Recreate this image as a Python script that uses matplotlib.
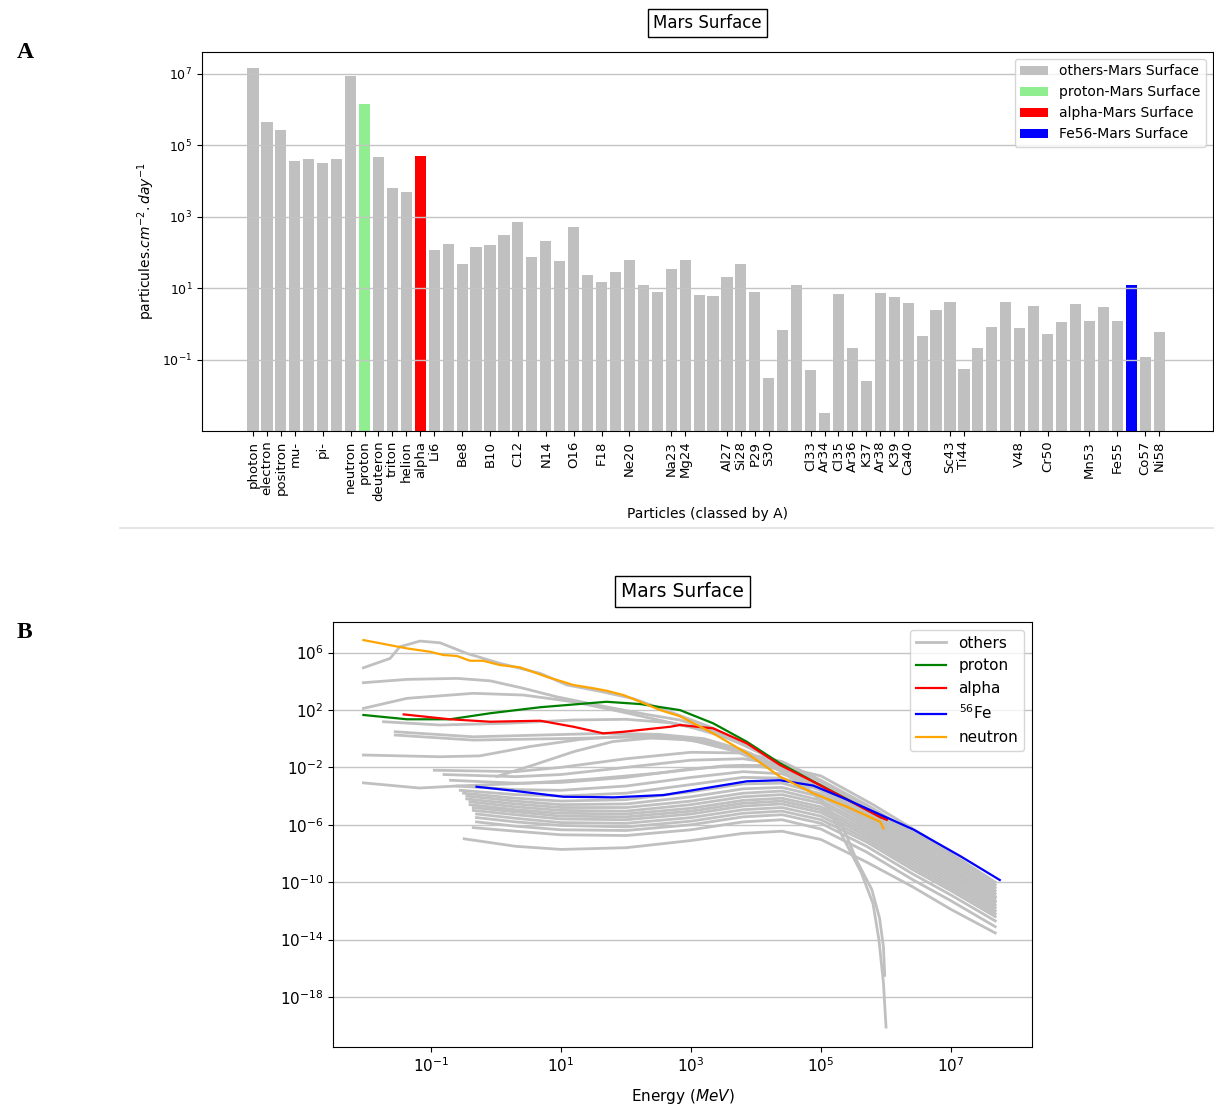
import numpy as np
import matplotlib
matplotlib.use('Agg')
import matplotlib.pyplot as plt
from matplotlib.lines import Line2D

# ---- top panel: integrated flux per particle, ordered by mass number
bar_names = ['photon', 'electron', 'positron', 'mu-', '', 'pi-', '', 'neutron', 'proton',
             'deuteron', 'triton', 'helion', 'alpha', 'Li6', '', 'Be8', '', 'B10', '', 'C12',
             '', 'N14', '', 'O16', '', 'F18', '', 'Ne20', '', '', 'Na23', 'Mg24', '', '',
             'Al27', 'Si28', 'P29', 'S30', '', '', 'Cl33', 'Ar34', 'Cl35', 'Ar36', 'K37',
             'Ar38', 'K39', 'Ca40', '', '', 'Sc43', 'Ti44', '', '', '', 'V48', '', 'Cr50',
             '', '', 'Mn53', '', 'Fe55', '', 'Co57', 'Ni58']
bar_flux = [1.45e7, 4.3e5, 2.6e5, 3.5e4, 4.2e4, 3.2e4, 4.2e4, 8.4e6, 1.4e6,
            4.6e4, 6.3e3, 4.8e3, 5.0e4, 120, 170, 48, 140, 158, 300, 710,
            76, 205, 59, 500, 23.5, 15, 29, 63, 12.3, 8.0, 34, 63, 6.6, 6.0,
            21, 48, 8.0, 0.030, 0.69, 12.3, 0.051, 0.0031, 6.7, 0.21, 0.025,
            7.4, 5.6, 3.9, 0.45, 2.5, 4.2, 0.056, 0.21, 0.83, 4.2, 0.76, 3.2, 0.52,
            1.1, 3.5, 1.2, 2.9, 1.2, 12.3, 0.115, 0.58]
hl_labels = ['proton-Mars Surface', 'alpha-Mars Surface', 'Fe56-Mars Surface']
hl_index = [8, 12, 63]
hl_colors = ['lightgreen', 'red', 'blue']

# ---- bottom panel: differential spectra, stored as log10(E [MeV]) / log10(flux)
proton_logE = [-2.04, -1.37, -0.71, -0.09, 0.68, 1.70, 2.22, 2.83, 3.34, 3.86, 4.37, 4.88, 5.40, 5.91, 6.01]
proton_logF = [1.65, 1.35, 1.35, 1.77, 2.19, 2.57, 2.41, 1.99, 1.07, -0.22, -1.72, -2.98, -4.22, -5.45, -5.62]
alpha_logE = [-1.42, -0.71, -0.09, 0.68, 1.19, 1.65, 1.96, 2.68, 2.83, 3.34, 3.86, 4.37, 4.88, 5.40, 5.91, 6.01]
alpha_logF = [1.69, 1.35, 1.18, 1.25, 0.83, 0.37, 0.48, 0.83, 0.95, 0.72, -0.33, -1.84, -3.00, -4.24, -5.47, -5.65]
fe_logE = [-0.30, 0.27, 1.04, 1.81, 2.58, 3.34, 3.86, 4.37, 4.88, 5.40, 5.91, 6.42, 7.14, 7.75]
fe_logF = [-3.35, -3.63, -4.05, -4.09, -3.93, -3.36, -2.97, -2.90, -3.27, -4.25, -5.29, -6.33, -8.18, -9.85]
neutron_logE = [-2.04, -1.37, -1.02, -0.81, -0.60, -0.40, -0.20, 0.06, 0.37, 0.78, 1.19, 1.50,
                1.70, 1.96, 2.22, 2.52, 2.83, 3.34, 3.86, 4.37, 4.88, 5.40, 5.91, 5.96]
neutron_logF = [6.87, 6.29, 6.06, 5.83, 5.76, 5.43, 5.43, 5.13, 4.97, 4.31, 3.74, 3.51,
                3.34, 3.04, 2.57, 2.00, 1.56, 0.37, -1.02, -2.65, -3.81, -4.75, -5.79, -6.25]

# light particles (gray), each with its own energy points
light_logE = [
    [-2.04, -1.63, -1.48, -1.17, -0.86, -0.45, 0.06, 0.68, 1.09, 1.60, 2.10, 2.60, 3.30, 4.00, 4.60, 5.10, 5.62, 5.80, 5.89, 5.96, 6.00],
    [-2.04, -1.37, -0.60, -0.09, 0.42, 0.93, 1.60, 2.30, 2.83, 3.40, 4.00, 4.60, 5.20, 5.80, 6.00],
    [-2.04, -1.37, -0.35, 0.42, 1.19, 1.90, 2.50, 3.00, 3.60, 4.20, 4.80, 5.40, 6.00],
    [-1.73, -0.86, 0.16, 1.19, 2.00, 2.70, 3.30, 3.90, 4.50, 5.10, 5.70, 6.00],
    [-1.55, -0.35, 0.68, 1.70, 2.50, 3.20, 3.80, 4.40, 5.00, 5.60, 6.00],
    [-1.55, -0.35, 1.19, 2.00, 2.80, 3.40, 4.00, 4.60, 5.20, 5.80, 6.05],
    [-2.04, -0.86, -0.25, 0.52, 1.30, 1.80, 2.50, 3.20, 3.90, 4.60, 5.20, 5.80, 6.05],
    [0.01, 0.60, 1.20, 1.80, 2.40, 3.00, 3.70, 4.40, 5.00, 5.35, 5.55, 5.78, 5.90, 5.96, 5.98],
    [-2.04, -1.18, -0.60, 0.50, 1.50, 2.50, 3.50, 4.30, 5.00, 5.80, 6.60, 7.40],
]
light_logF = [
    [4.94, 5.59, 6.40, 6.80, 6.68, 5.94, 5.25, 4.55, 3.74, 3.30, 2.80, 2.00, 0.80, -0.80, -2.60, -4.80, -9.35, -11.50, -14.00, -17.00, -20.10],
    [3.90, 4.13, 4.20, 4.03, 3.51, 2.92, 2.30, 1.70, 1.30, 0.50, -0.80, -2.30, -3.90, -5.50, -6.10],
    [2.11, 2.81, 3.16, 3.04, 2.57, 1.90, 1.30, 0.80, 0.00, -1.30, -2.90, -4.50, -6.20],
    [1.18, 0.95, 1.07, 1.30, 1.35, 1.10, 0.50, -0.60, -2.00, -3.60, -5.20, -6.00],
    [0.48, 0.13, 0.25, 0.37, 0.30, 0.00, -0.80, -2.10, -3.60, -5.20, -6.30],
    [0.25, -0.10, 0.02, 0.10, 0.00, -0.40, -1.30, -2.60, -4.10, -5.80, -6.60],
    [-1.14, -1.26, -1.20, -0.55, -0.05, 0.13, 0.20, -0.10, -1.00, -2.50, -4.00, -5.70, -6.40],
    [-2.64, -1.80, -0.90, -0.20, 0.05, -0.10, -0.90, -2.30, -4.20, -6.30, -8.50, -10.50, -12.50, -14.50, -16.50],
    [-3.08, -3.44, -3.30, -3.10, -2.80, -2.40, -1.90, -1.85, -2.60, -4.60, -6.80, -9.30],
]

# ions (gray) on a shared energy grid, first point replaced by each ion's lowest energy
ion_grid = [-0.45, 0.3, 1.0, 2.0, 3.0, 3.8, 4.4, 5.0, 5.7, 6.4, 7.0, 7.68]
ion_start = [-0.95, -0.80, -0.70, -0.60, -0.55, -0.50, -0.45, -0.45, -0.40, -0.40,
             -0.35, -0.35, -0.30, -0.30, -0.30, -0.35, -0.49]
ion_logF = [
    [-2.20, -2.30, -2.00, -1.40, -0.95, -1.00, -1.60, -2.90, -4.60, -6.50, -8.00, -10.00],
    [-2.50, -2.65, -2.50, -2.00, -1.50, -1.40, -1.80, -3.00, -4.80, -6.70, -8.20, -10.20],
    [-2.90, -3.10, -3.05, -2.70, -2.10, -1.85, -2.10, -3.20, -5.00, -6.90, -8.40, -10.40],
    [-3.30, -3.55, -3.60, -3.30, -2.70, -2.30, -2.45, -3.40, -5.20, -7.10, -8.60, -10.60],
    [-3.60, -3.90, -4.00, -3.80, -3.20, -2.70, -2.75, -3.60, -5.40, -7.30, -8.80, -10.80],
    [-3.80, -4.15, -4.35, -4.25, -3.70, -3.15, -3.10, -3.85, -5.60, -7.50, -9.00, -11.00],
    [-4.00, -4.35, -4.60, -4.55, -4.05, -3.50, -3.40, -4.05, -5.80, -7.70, -9.20, -11.10],
    [-4.20, -4.55, -4.80, -4.80, -4.35, -3.80, -3.65, -4.30, -6.00, -7.90, -9.40, -11.30],
    [-4.40, -4.75, -5.00, -5.05, -4.60, -4.05, -3.90, -4.50, -6.20, -8.10, -9.60, -11.40],
    [-4.60, -4.95, -5.20, -5.25, -4.85, -4.30, -4.15, -4.75, -6.40, -8.30, -9.80, -11.60],
    [-4.80, -5.10, -5.40, -5.45, -5.05, -4.50, -4.35, -4.95, -6.60, -8.50, -10.00, -11.80],
    [-5.00, -5.30, -5.60, -5.65, -5.25, -4.70, -4.55, -5.15, -6.80, -8.70, -10.20, -12.00],
    [-5.25, -5.55, -5.85, -5.90, -5.50, -4.95, -4.80, -5.40, -7.00, -8.90, -10.40, -12.20],
    [-5.50, -5.80, -6.05, -6.15, -5.75, -5.20, -5.05, -5.65, -7.20, -9.10, -10.60, -12.40],
    [-5.80, -6.10, -6.35, -6.40, -6.00, -5.45, -5.30, -5.90, -7.50, -9.40, -10.90, -12.70],
    [-6.20, -6.45, -6.70, -6.75, -6.35, -5.80, -5.65, -6.30, -7.90, -9.80, -11.30, -13.10],
    [-6.98, -7.50, -7.72, -7.60, -7.10, -6.60, -6.45, -7.03, -8.60, -10.30, -11.90, -13.54],
]

GRAY = 'silver'

fig = plt.figure(figsize=(12.14, 11.04), dpi=100)

# ------------------------------------------------------------------ A
axA = fig.add_axes([0.1664, 0.6096, 0.8328, 0.3433])
x = np.arange(len(bar_flux))
others = [i for i in x if i not in hl_index]
axA.bar(others, [bar_flux[i] for i in others], width=0.8, color=GRAY,
        label='others-Mars Surface')
for idx, col, lab in zip(hl_index, hl_colors, hl_labels):
    axA.bar([idx], [bar_flux[idx]], width=0.8, color=col, label=lab)
axA.set_yscale('log')
axA.set_ylim(1.0e-3, 4.04e7)
axA.set_xlim(-3.66, 68.87)
axA.set_yticks([1e-1, 1e1, 1e3, 1e5, 1e7])
axA.yaxis.set_minor_locator(matplotlib.ticker.NullLocator())
tick_pos = [i for i, n in enumerate(bar_names) if n]
axA.set_xticks(tick_pos)
axA.set_xticklabels([bar_names[i] for i in tick_pos], rotation=90, fontsize=9.5)
axA.tick_params(axis='y', labelsize=9)
axA.grid(axis='y', color='#c4c4c4', linewidth=1.0)
axA.set_xlabel('Particles (classed by A)', fontsize=10)
axA.set_ylabel(r'particules.$cm^{-2}.day^{-1}$', fontsize=10)
axA.set_title('Mars Surface', fontsize=12, pad=17,
              bbox=dict(boxstyle='square,pad=0.3', facecolor='white', edgecolor='black'))
axA.legend(loc='upper right', fontsize=10)

# ------------------------------------------------------------------ B
axB = fig.add_axes([0.2743, 0.0516, 0.5758, 0.3850])


def spectrum(ax, logE, logF, **kw):
    ax.plot(10.0 ** np.asarray(logE), 10.0 ** np.asarray(logF), **kw)


for le, lf in zip(light_logE, light_logF):
    spectrum(axB, le, lf, color=GRAY, lw=2.0)
for start, lf in zip(ion_start, ion_logF):
    spectrum(axB, [start] + ion_grid[1:], lf, color=GRAY, lw=2.0)

spectrum(axB, proton_logE, proton_logF, color='green', lw=1.6)
spectrum(axB, alpha_logE, alpha_logF, color='red', lw=1.6)
spectrum(axB, fe_logE, fe_logF, color='blue', lw=1.6)
spectrum(axB, neutron_logE, neutron_logF, color='orange', lw=1.6)

axB.set_xscale('log')
axB.set_yscale('log')
axB.set_xlim(10 ** -2.508, 10 ** 8.246)
axB.set_ylim(10 ** -21.49, 10 ** 8.13)
axB.set_xticks([1e-1, 1e1, 1e3, 1e5, 1e7])
axB.set_yticks([1e6, 1e2, 1e-2, 1e-6, 1e-10, 1e-14, 1e-18])
axB.xaxis.set_minor_locator(matplotlib.ticker.NullLocator())
axB.yaxis.set_minor_locator(matplotlib.ticker.NullLocator())
axB.tick_params(labelsize=11)
axB.grid(axis='y', color='#c4c4c4', linewidth=1.0)
axB.set_xlabel(r'Energy ($MeV$)', fontsize=11, labelpad=8)
axB.set_title('Mars Surface', fontsize=13.5, pad=18,
              bbox=dict(boxstyle='square,pad=0.3', facecolor='white', edgecolor='black'))

handles = [Line2D([], [], color=GRAY, lw=2.0),
           Line2D([], [], color='green', lw=1.6),
           Line2D([], [], color='red', lw=1.6),
           Line2D([], [], color='blue', lw=1.6),
           Line2D([], [], color='orange', lw=1.6)]
axB.legend(handles, ['others', 'proton', 'alpha', r'$^{56}$Fe', 'neutron'],
           loc='upper right', fontsize=11)

# panel letters and separator
fig.text(0.014, 1 - 52 / 1104, 'A', fontsize=17, fontweight='bold',
         family='Liberation Serif', va='center')
fig.text(0.014, 1 - 632 / 1104, 'B', fontsize=17, fontweight='bold',
         family='Liberation Serif', va='center')
fig.add_artist(Line2D([120 / 1214, 1.0], [1 - 528 / 1104] * 2, color='#e2e2e2', lw=1.2))

fig.savefig('out.png', dpi=100)
